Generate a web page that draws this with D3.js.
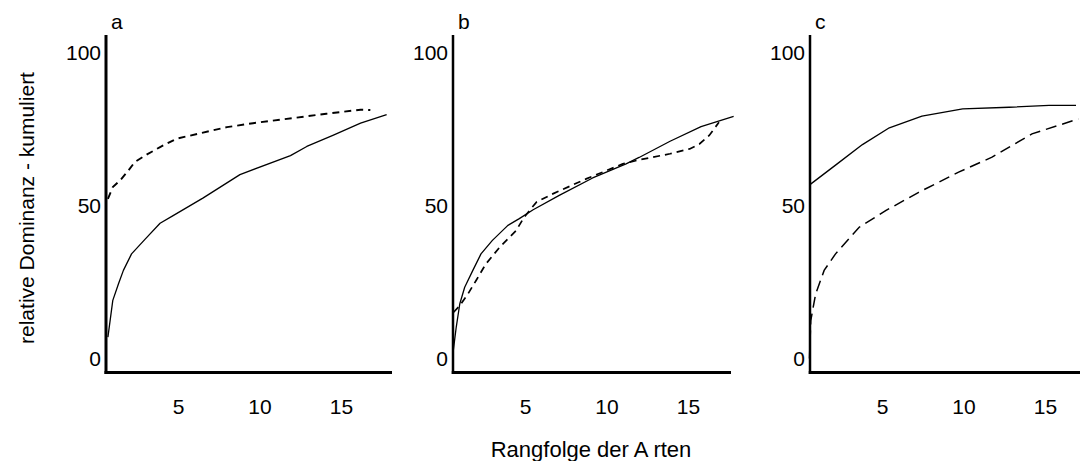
<!DOCTYPE html>
<html>
<head>
<meta charset="utf-8">
<script src="https://cdn.jsdelivr.net/npm/d3@7"></script>
<style>
  html, body { margin: 0; padding: 0; background: #fff; }
  svg { display: block; }
  text { font-family: "Liberation Sans", Arial, sans-serif; fill: #000; }
</style>
</head>
<body>
<svg id="chart" width="1080" height="461"></svg>
<script>
// ---- data (rank, cumulative relative dominance %) ----
const panelLabels = ["a", "b", "c"];
const xTicks = [5, 10, 15];
const yTicks = [0, 50, 100];
const yTitle = "relative Dominanz - kumuliert";
const xTitle = "Rangfolge der A rten";

const aSolid = [[0.7,7],[1.0,19],[1.35,24.4],[1.65,28.8],[2.15,34.2],[3.0,39.1],[3.9,44.2],[4.7,46.7],[6.55,52.5],[8.8,60.1],[11.9,66.3],[12.9,69.3],[14.5,72.9],[16.2,76.9],[17.8,79.7]];
const aDashed = [[0.7,52.2],[1.0,56],[1.45,58.2],[1.95,61.4],[2.35,64.2],[3.1,66.7],[3.9,69.1],[4.9,71.8],[6.35,73.6],[8.0,75.6],[9.6,76.9],[12.1,78.6],[14.1,80],[16.2,81.3],[16.8,81.2]];
const bSolid = [[0.6,2.6],[0.78,10.2],[1.0,17.9],[1.3,23.3],[1.8,28.8],[2.3,34.2],[3.0,38.6],[3.95,43.5],[4.65,45.7],[5.5,48.6],[7.1,53.3],[9.15,59],[11.2,63.6],[12.0,65.7],[13.9,71],[15.8,75.8],[17.8,79.1]];
const bDashed = [[0.62,15.1],[1.0,17.3],[1.5,21.1],[2.0,25.5],[2.6,30.9],[3.45,36.4],[4.45,41.8],[4.95,46.2],[5.7,51.1],[6.7,53.8],[8.75,58.7],[11.0,63.6],[12.0,64.9],[13.9,66.9],[15.1,68.5],[15.7,70.1],[16.3,72.9],[16.9,77.2]];
const cSolid = [[0.6,56.9],[2.25,63.6],[3.8,69.9],[5.45,75.4],[7.45,79.2],[9.95,81.6],[12.8,82.1],[15.25,82.7],[16.9,82.7]];
const cDashed = [[0.55,0],[0.63,12.4],[0.93,21.1],[1.45,28.8],[2.15,34.2],[3.6,42.9],[5.25,48.4],[7.25,54.3],[9.7,60.9],[11.75,65.8],[14.2,73.4],[17.05,78.3]];

const solidSeries = [aSolid, bSolid, cSolid];
const dashedSeries = [aDashed, bDashed, cDashed];

// ---- layout ----
const svg = d3.select("#chart");
const axisXs = [106, 453, 810];
const xEnds = [392, 731, 1085];
const yAxisW = [3, 2.5, 2.5];
const dashPatterns = ["7,5", "7,5", "11,6"];
const dashW = [1.9, 1.7, 1.5];
const axisTop = 35, axisBottomY = 372.5;
const pxPerUnit = 16.3;
const tickFont = "21px";
const titleFont = "22px";

const y = d3.scaleLinear().domain([0, 100]).range([358.5, 52.5]);

panelLabels.forEach((lab, i) => {
  const ax = axisXs[i];
  const x = d3.scaleLinear().domain([0, 17.5]).range([ax - 9.5, ax - 9.5 + 17.5 * pxPerUnit]);
  const g = svg.append("g");

  // y tick labels
  const yAxis = g.append("g").attr("transform", `translate(${ax},0)`)
    .call(d3.axisLeft(y).tickValues(yTicks).tickSize(0).tickPadding(5));
  yAxis.select(".domain").remove();
  yAxis.selectAll("text").style("font-size", tickFont).attr("font-family", null);

  // x tick labels
  const xAxis = g.append("g").attr("transform", `translate(0,${axisBottomY})`)
    .call(d3.axisBottom(x).tickValues(xTicks).tickSize(0).tickPadding(27));
  xAxis.select(".domain").remove();
  xAxis.selectAll("text").style("font-size", tickFont).attr("font-family", null);

  // curves
  const line = d3.line().x(d => x(d[0])).y(d => y(d[1]));
  g.append("path").datum(solidSeries[i])
    .attr("d", line).attr("fill", "none").attr("stroke", "#000")
    .attr("stroke-width", 1.3).attr("stroke-linejoin", "round");
  g.append("path").datum(dashedSeries[i])
    .attr("d", line).attr("fill", "none").attr("stroke", "#000")
    .attr("stroke-width", dashW[i]).attr("stroke-dasharray", dashPatterns[i]);

  // axis lines
  g.append("line").attr("x1", ax).attr("x2", ax)
    .attr("y1", axisTop).attr("y2", axisBottomY + 1.5)
    .attr("stroke", "#000").attr("stroke-width", yAxisW[i]);
  g.append("line").attr("x1", ax - yAxisW[i] / 2).attr("x2", xEnds[i])
    .attr("y1", axisBottomY).attr("y2", axisBottomY)
    .attr("stroke", "#000").attr("stroke-width", 3);

  // panel letter
  g.append("text").attr("x", ax + 5).attr("y", 28.5)
    .style("font-size", tickFont).text(lab);
});

// axis titles
svg.append("text")
  .attr("transform", "translate(34,208) rotate(-90)")
  .attr("text-anchor", "middle")
  .style("font-size", "21px")
  .text(yTitle);
svg.append("text")
  .attr("x", 591).attr("y", 456.5)
  .attr("text-anchor", "middle")
  .style("font-size", titleFont)
  .text(xTitle);
</script>
</body>
</html>
